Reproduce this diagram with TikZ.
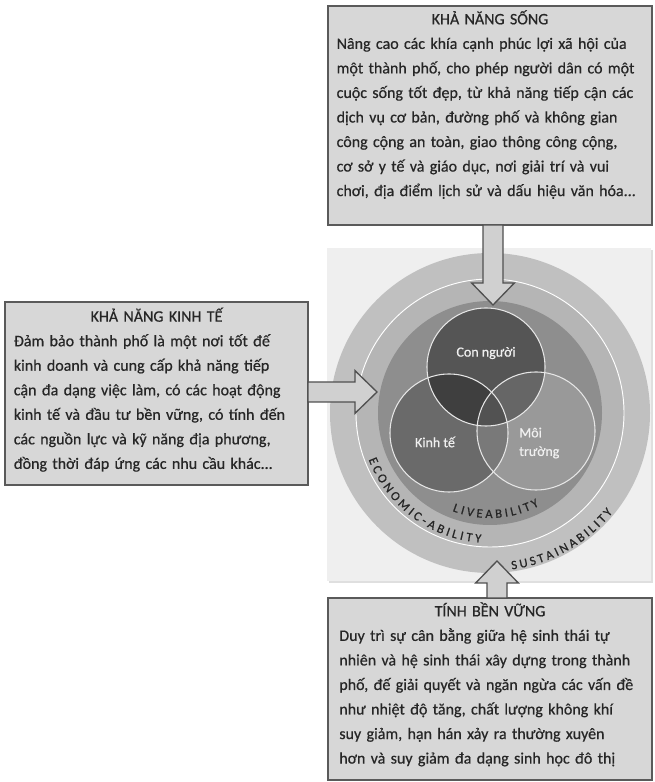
\documentclass[tikz,border=0pt]{standalone}
\usepackage{fontspec}
\setmainfont{Carlito}
\newfontfamily\boxfont{Carlito}[FakeBold=0.6]
\usetikzlibrary{calc,positioning,shadows,decorations.text}
\definecolor{boxfill}{HTML}{D7D7D7}
\definecolor{boxline}{HTML}{5A5A5A}
\definecolor{inktext}{HTML}{262626}
\definecolor{panelfill}{HTML}{EFEFEF}
\definecolor{ringout}{HTML}{C0C0C0}
\definecolor{ringmid}{HTML}{B5B5B5}
\definecolor{ringin}{HTML}{8E8E8E}
\definecolor{vennedge}{HTML}{E6E6E6}
\definecolor{vennink}{HTML}{F0F0F0}
\definecolor{arrowfill}{HTML}{D0D0D0}
\definecolor{arrowline}{HTML}{505050}
\newcommand{\jline}[1]{\makebox[\hsize][s]{#1}}
\newcommand{\jtitle}[1]{\makebox[\hsize][c]{#1}}
\newcommand{\ringfont}{\boxfont\fontsize{9.5}{10}\selectfont\color{inktext}}
\tikzset{
  infobox/.style={
    draw = boxline,
    line width = 1pt,
    fill = boxfill,
    inner sep = 0pt,
    outer sep = 0pt,
    anchor = north west
  },
  boxtext/.style={
    anchor = north,
    align = left,
    inner sep = 0pt,
    text = inktext,
    font = \boxfont\fontsize{12}{18.4}\selectfont
  },
  panel/.style={
    fill = panelfill,
    anchor = north west,
    inner sep = 0pt,
    drop shadow = {opacity=.25, shadow xshift=1.2pt, shadow yshift=-1.2pt}
  },
  ring/.style={
    shape = circle,
    inner sep = 0pt,
    outer sep = 0pt
  },
  venn/.style={
    shape = circle,
    minimum size = 88.5pt,
    inner sep = 0pt,
    outer sep = 0pt
  },
  vennlabel/.style={
    text = vennink,
    font = \boxfont\fontsize{10.5}{14}\selectfont,
    inner sep = 0pt
  },
  fatarrow/.style={
    draw = arrowline,
    fill = arrowfill,
    line width = 1pt,
    to path={let \p1=(\tikztostart), \p2=(\tikztotarget),
      \n1={atan2(\y2-\y1,\x2-\x1)}, \n2={veclen(\x2-\x1,\y2-\y1)-16.5pt} in
      ($(\p1)+({\n1+90}:7.5pt)$) -- ++({\n1}:{\n2}) -- ++({\n1+90}:8.5pt) -- (\p2)
      -- ($(\p1)+({\n1}:{\n2})+({\n1-90}:16pt)$) -- ++({\n1+90}:8.5pt)
      -- ($(\p1)+({\n1-90}:7.5pt)$) -- cycle}
  }
}

\begin{document}
\begin{tikzpicture}[x=0.75pt, y=0.75pt]
\useasboundingbox (0,0) rectangle (654,782);

% centre panel with the three rings
\node[panel, minimum width=243pt, minimum height=249.75pt] (panel) at (327,534) {};
\node[ring, fill=ringout, minimum size=240pt] (outer) at (490,369) {};
\node[ring, fill=ringmid, draw=white, line width=0.7pt, minimum size=201pt] (band) at (outer) {};
\node[ring, fill=ringin, minimum size=168pt] (disc) at (outer) {};

% the three fields
\node[venn, fill=black, fill opacity=.25] (kinh) at (449,349) {};
\node[venn, fill=black, fill opacity=.40] (con) at (486,415) {};
\node[venn, fill=white, fill opacity=.10] (moi) at (536,351) {};
\foreach \v in {kinh,con,moi}
  \node[venn, draw=vennedge, line width=0.8pt] (\v-edge) at (\v) {};

\node[vennlabel] (conlbl) at (486,429) {Con người};
\node[vennlabel] (kinhlbl) at (435,340) {Kinh tế};
\node[vennlabel, align=left, anchor=west] (moilbl) at (519,339) {Môi\\trường};

% ring captions
\path[decorate, decoration={text along path, text align={fit to path},
  text={|\ringfont|ECONOMIC-ABILITY}}]
  ($(disc)+(201:130)$) arc[start angle=201, end angle=266, radius=130];
\path[decorate, decoration={text along path, text align={fit to path},
  text={|\ringfont|LIVEABILITY}}]
  ($(disc)+(249:105)$) arc[start angle=249, end angle=298, radius=105];
\path[decorate, decoration={text along path, text align={fit to path},
  text={|\ringfont|SUSTAINABILITY}}]
  ($(disc)+(278:158)$) arc[start angle=278, end angle=321, radius=158];

% text boxes
\node[infobox, minimum width=243pt, minimum height=164.25pt] (topbox) at (328,776) {};
\node[boxtext, text width=230pt, below=3pt of topbox.north] (toptext) {%
\jtitle{KHẢ NĂNG SỐNG}\\
\jline{Nâng cao các khía cạnh phúc lợi xã hội của}\\
\jline{một thành phố, cho phép người dân có một}\\
\jline{cuộc sống tốt đẹp, từ khả năng tiếp cận các}\\
\jline{dịch vụ cơ bản, đường phố và không gian}\\
\jline{công cộng an toàn, giao thông công cộng,}\\
\jline{cơ sở y tế và giáo dục, nơi giải trí và vui}\\
\jline{chơi, địa điểm lịch sử và dấu hiệu văn hóa...}};

\node[infobox, minimum width=227.25pt, minimum height=137.25pt] (leftbox) at (5,480) {};
\node[boxtext, text width=214pt, below=4pt of leftbox.north] (lefttext) {%
\jtitle{KHẢ NĂNG KINH TẾ}\\
\jline{Đảm bảo thành phố là một nơi tốt đế}\\
\jline{kinh doanh và cung cấp khả năng tiếp}\\
\jline{cận đa dạng việc làm, có các hoạt động}\\
\jline{kinh tế và đầu tư bền vững, có tính đến}\\
\jline{các nguồn lực và kỹ năng địa phương,}\\
đồng thời đáp ứng các nhu cầu khác...};

\node[infobox, minimum width=243pt, minimum height=136.5pt] (botbox) at (328,184) {};
\node[boxtext, text width=226pt, below=3pt of botbox.north] (bottext) {%
\jtitle{TÍNH BỀN VỮNG}\\
\jline{Duy trì sự cân bằng giữa hệ sinh thái tự}\\
\jline{nhiên và hệ sinh thái xây dựng trong thành}\\
\jline{phố, đế giải quyết và ngăn ngừa các vấn đề}\\
\jline{như nhiệt độ tăng, chất lượng không khí}\\
\jline{suy giảm, hạn hán xảy ra thường xuyên}\\
hơn và suy giảm đa dạng sinh học đô thị};

% block arrows into the rings
\coordinate (livtip) at (493,477);
\coordinate (ecotip) at (377,390);
\coordinate (sustip) at (497,221);
\coordinate (livbase) at (topbox.south -| livtip);
\coordinate (ecobase) at (leftbox.east |- ecotip);
\coordinate (susbase) at (botbox.north -| sustip);
\draw[fatarrow] (livbase) to (livtip);
\draw[fatarrow] (ecobase) to (ecotip);
\draw[fatarrow] (susbase) to (sustip);
\end{tikzpicture}
\end{document}
